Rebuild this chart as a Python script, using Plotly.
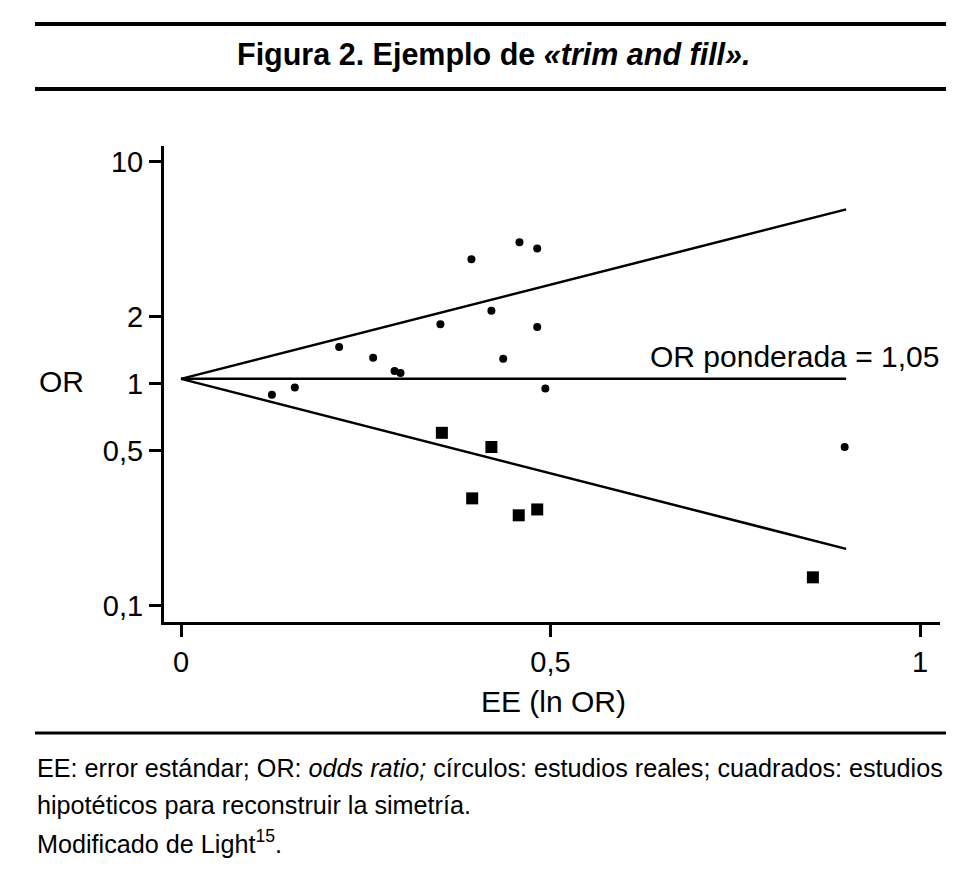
import plotly.graph_objects as go

# estudios reales (circulos)
ee_real = [0.123, 0.154, 0.214, 0.260, 0.289, 0.297, 0.351, 0.393, 0.458,
           0.482, 0.420, 0.482, 0.436, 0.493, 0.898]
or_real = [0.890, 0.961, 1.460, 1.307, 1.138, 1.115, 1.848, 3.63, 4.33,
           4.06, 2.13, 1.80, 1.293, 0.951, 0.518]

# estudios hipoteticos (cuadrados)
ee_fill = [0.353, 0.420, 0.394, 0.457, 0.482, 0.855]
or_fill = [0.600, 0.518, 0.304, 0.255, 0.271, 0.134]

# embudo y OR ponderada
funnel_ee = [0, 0.9]
funnel_upper = [1.05, 6.09]
funnel_lower = [1.05, 0.18]
or_pond = [1.05, 1.05]

y_ticks = [0.1, 0.5, 1, 2, 10]
y_labels = ["0,1", "0,5", "1", "2", "10"]
x_ticks = [0, 0.5, 1]
x_labels = ["0", "0,5", "1"]

# plot area in page pixels
L, R, T, B = 164, 940, 146, 622
W, H = 965, 876


def px_x(px):
    return (px - L) / (R - L)


def px_y(py):
    return (B - py) / (B - T)


FONT = "Liberation Sans, Arial, Helvetica, sans-serif"

fig = go.Figure()

line_style = dict(color="black", width=2.5)
fig.add_trace(go.Scatter(x=funnel_ee, y=funnel_upper, mode="lines", line=line_style))
fig.add_trace(go.Scatter(x=funnel_ee, y=funnel_lower, mode="lines", line=line_style))
fig.add_trace(go.Scatter(x=funnel_ee, y=or_pond, mode="lines", line=line_style))

fig.add_trace(go.Scatter(x=ee_real, y=or_real, mode="markers",
                         marker=dict(symbol="circle", size=8, color="black")))
fig.add_trace(go.Scatter(x=ee_fill, y=or_fill, mode="markers",
                         marker=dict(symbol="square", size=12, color="black")))

fig.update_xaxes(range=[-0.023, 1.027], tickvals=x_ticks, ticktext=x_labels,
                 showline=True, linecolor="black", linewidth=3,
                 ticks="outside", ticklen=12, tickwidth=3, tickcolor="black",
                 showgrid=False, zeroline=False,
                 tickfont=dict(family=FONT, size=29, color="black"))
fig.update_yaxes(type="log", range=[-1.074, 1.070], tickvals=y_ticks, ticktext=y_labels,
                 showline=True, linecolor="black", linewidth=3,
                 ticks="outside", ticklen=12, tickwidth=3, tickcolor="black",
                 showgrid=False, zeroline=False,
                 tickfont=dict(family=FONT, size=29, color="black"))

# rules of the figure frame
rules = [(24, 4), (89, 4), (733, 3)]
for yy, lw in rules:
    fig.add_shape(type="line", xref="paper", yref="paper",
                  x0=px_x(35), x1=px_x(946), y0=px_y(yy), y1=px_y(yy),
                  line=dict(color="black", width=lw))

ann = [
    dict(text="<b>Figura 2. Ejemplo de <i>«trim and fill».</i></b>",
         x=px_x(494), y=px_y(54), xanchor="center", size=30.5),
    dict(text="OR", x=px_x(61), y=px_y(381), xanchor="center", size=30),
    dict(text="EE (ln OR)", x=px_x(553), y=px_y(701), xanchor="center", size=30),
    dict(text="OR ponderada = 1,05", x=px_x(941), y=px_y(356), xanchor="right", size=30),
    dict(text="EE: error estándar; OR: <i>odds ratio;</i> círculos: estudios reales; "
              "cuadrados: estudios",
         x=px_x(35), y=px_y(768), xanchor="left", size=25.2),
    dict(text="hipotéticos para reconstruir la simetría.",
         x=px_x(35), y=px_y(805), xanchor="left", size=25.2),
    dict(text="Modificado de Light<sup>15</sup>.",
         x=px_x(35), y=px_y(842), xanchor="left", size=25.2),
]
for a in ann:
    size = a.pop("size")
    fig.add_annotation(xref="paper", yref="paper", yanchor="middle",
                       showarrow=False,
                       font=dict(family=FONT, size=size, color="black"), **a)

fig.update_layout(width=W, height=H, showlegend=False,
                  margin=dict(l=L, r=W - R, t=T, b=H - B),
                  plot_bgcolor="white", paper_bgcolor="white")

# the page body has a default 8px margin, drop it so pixels line up
fig.write_html("out.html", config={"displayModeBar": False},
               post_script="document.body.style.margin = '0';")
